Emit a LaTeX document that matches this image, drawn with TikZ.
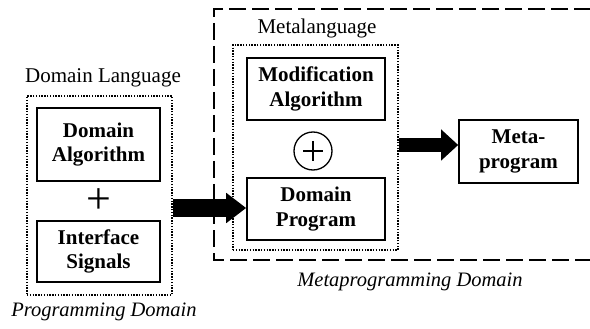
\documentclass[tikz,border=0pt]{standalone}
\usepackage{fontspec}
\setmainfont{Liberation Serif}
\usetikzlibrary{arrows.meta,calc}
\begin{document}
\begin{tikzpicture}[x=1pt,y=-1pt,
  solidbox/.style={draw,line width=1.6pt,inner sep=0pt,font=\fontsize{21}{24.5}\selectfont\bfseries,align=center},
  dotbox/.style={draw,line width=1.6pt,dash pattern=on 1.4pt off 1.4pt,inner sep=0pt},
  lbl/.style={font=\fontsize{21}{24}\selectfont,inner sep=0pt},
  ilbl/.style={font=\fontsize{20.5}{24}\selectfont\itshape,inner sep=0pt},
]
\useasboundingbox (0,0) rectangle (590,329);
% left group
\node[dotbox,minimum width=145pt,minimum height=199pt] (ldot) at (99.5,195.5) {};
\node[solidbox,minimum width=123pt,minimum height=73pt] (da) at (98.5,144.5) {Domain\\Algorithm};
\node[font=\fontsize{44}{44}\selectfont,inner sep=0pt] (plus1) at (98.5,201) {+};
\node[solidbox,minimum width=123pt,minimum height=61pt] (is) at (98.5,251.5) {Interface\\Signals};
\node[lbl] (dl) at (103,78) {Domain Language};
\node[ilbl] (pd) at (104,312) {Programming Domain};
% metaprogramming domain (dashed, open on the right)
\coordinate (dtr) at (591,9);
\coordinate (dtl) at (214,9);
\coordinate (dbl) at (214,260);
\coordinate (dbr) at (591,260);
\draw[line width=1.6pt,dash pattern=on 17pt off 6pt] (dtr) -- (dtl) -- (dbl) -- (dbr);
\node[lbl] (ml) at (317,28) {Metalanguage};
\node[dotbox,minimum width=165pt,minimum height=205pt] (rdot) at (315.5,147.5) {};
\node[solidbox,minimum width=138pt,minimum height=62pt] (ma) at (316,89) {Modification\\Algorithm};
\node[draw,circle,line width=1.3pt,minimum size=38pt,inner sep=0pt] (cp) at (313,151) {};
\draw[line width=1.4pt] ($(cp.center)+(-10,0)$) -- ($(cp.center)+(10,0)$)
  ($(cp.center)+(0,-10)$) -- ($(cp.center)+(0,10)$);
\node[solidbox,minimum width=138pt,minimum height=62pt] (dp) at (316,209) {Domain\\Program};
\node[solidbox,minimum width=119pt,minimum height=63pt] (mp) at (518.5,151.5) {Meta-\\program};
\node[ilbl] (mpd) at (410,282) {Metaprogramming Domain};
% arrows
\coordinate (a1s) at (ldot.east |- 0,208);
\coordinate (a1e) at (dp.west |- 0,208);
\draw[line width=18pt,-{Triangle[length=20pt,width=29pt]}] (a1s) -- (a1e);
\coordinate (a2s) at (rdot.east |- 0,145);
\coordinate (a2e) at (mp.west |- 0,145);
\draw[line width=14pt,-{Triangle[length=17pt,width=30pt]}] (a2s) -- (a2e);
\end{tikzpicture}
\end{document}
